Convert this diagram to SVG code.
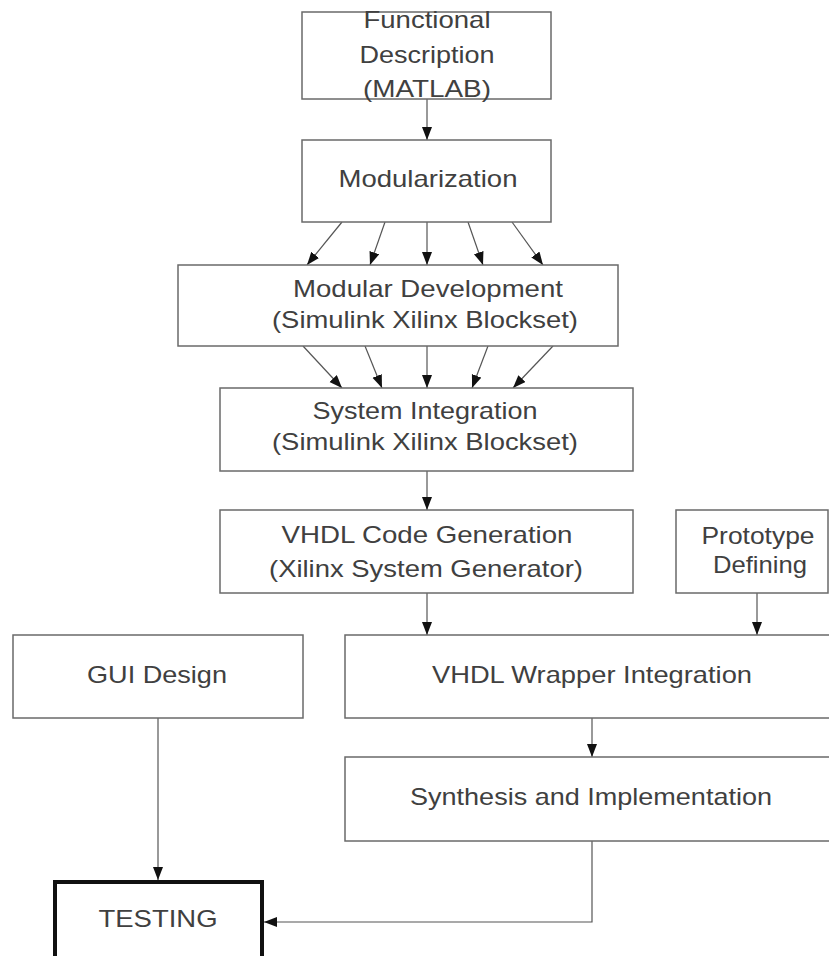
<svg xmlns="http://www.w3.org/2000/svg" width="829" height="956" viewBox="0 0 829 956">
<style>
.box{fill:#fff;stroke:#6a6a6a;stroke-width:1.5}
.bold{fill:#fff;stroke:#111;stroke-width:4}
.t{font-family:"Liberation Sans",Arial,sans-serif;font-size:24px;fill:#404040;text-anchor:middle}
.c{fill:none;stroke:#555;stroke-width:1.2}
</style>
<defs>
<marker id="ah" markerUnits="userSpaceOnUse" markerWidth="14" markerHeight="11" refX="13" refY="5" orient="auto">
<path d="M0,0 L13,5 L0,10 z" fill="#111"/>
</marker>
</defs>
<rect width="829" height="956" fill="#fff"/>
<g id="connectors">
<path class="c" d="M427,99 L427,140" marker-end="url(#ah)"/>
<path class="c" d="M342,222 L307,265" marker-end="url(#ah)"/>
<path class="c" d="M385,222 L370,265" marker-end="url(#ah)"/>
<path class="c" d="M427,222 L427,265" marker-end="url(#ah)"/>
<path class="c" d="M468,222 L483,265" marker-end="url(#ah)"/>
<path class="c" d="M512,222 L543,265" marker-end="url(#ah)"/>
<path class="c" d="M303,346 L342,388" marker-end="url(#ah)"/>
<path class="c" d="M365,346 L382,388" marker-end="url(#ah)"/>
<path class="c" d="M427,346 L427,388" marker-end="url(#ah)"/>
<path class="c" d="M488,346 L472,388" marker-end="url(#ah)"/>
<path class="c" d="M553,346 L513,388" marker-end="url(#ah)"/>
<path class="c" d="M427,471 L427,510" marker-end="url(#ah)"/>
<path class="c" d="M427,593 L427,635" marker-end="url(#ah)"/>
<path class="c" d="M757,593 L757,635" marker-end="url(#ah)"/>
<path class="c" d="M592,718 L592,757" marker-end="url(#ah)"/>
<path class="c" d="M158,718 L158,880" marker-end="url(#ah)"/>
<path class="c" d="M592,841 L592,922 L264,922" marker-end="url(#ah)"/>
</g>
<g id="functional">
<rect class="box" x="302" y="12" width="249" height="87"/>
<text class="t" x="427" y="28" textLength="127" lengthAdjust="spacingAndGlyphs">Functional</text>
<text class="t" x="427" y="63" textLength="135" lengthAdjust="spacingAndGlyphs">Description</text>
<text class="t" x="427" y="97" textLength="128" lengthAdjust="spacingAndGlyphs">(MATLAB)</text>
</g>
<g id="modularization">
<rect class="box" x="302" y="140" width="249" height="82"/>
<text class="t" x="428" y="187" textLength="179" lengthAdjust="spacingAndGlyphs">Modularization</text>
</g>
<g id="modular-development">
<rect class="box" x="178" y="265" width="440" height="81"/>
<text class="t" x="428" y="297" textLength="270" lengthAdjust="spacingAndGlyphs">Modular Development</text>
<text class="t" x="425" y="328" textLength="306" lengthAdjust="spacingAndGlyphs">(Simulink Xilinx Blockset)</text>
</g>
<g id="system-integration">
<rect class="box" x="220" y="388" width="413" height="83"/>
<text class="t" x="425" y="419" textLength="225" lengthAdjust="spacingAndGlyphs">System Integration</text>
<text class="t" x="425" y="450" textLength="306" lengthAdjust="spacingAndGlyphs">(Simulink Xilinx Blockset)</text>
</g>
<g id="vhdl-code-generation">
<rect class="box" x="220" y="510" width="413" height="83"/>
<text class="t" x="427" y="543" textLength="291" lengthAdjust="spacingAndGlyphs">VHDL Code Generation</text>
<text class="t" x="426" y="577" textLength="314" lengthAdjust="spacingAndGlyphs">(Xilinx System Generator)</text>
</g>
<g id="prototype-defining">
<rect class="box" x="676" y="510" width="152" height="83"/>
<text class="t" x="758" y="544" textLength="113" lengthAdjust="spacingAndGlyphs">Prototype</text>
<text class="t" x="760" y="573" textLength="94" lengthAdjust="spacingAndGlyphs">Defining</text>
</g>
<g id="gui-design">
<rect class="box" x="13" y="635" width="290" height="83"/>
<text class="t" x="157" y="683" textLength="140" lengthAdjust="spacingAndGlyphs">GUI Design</text>
</g>
<g id="vhdl-wrapper-integration">
<rect class="box" x="345" y="635" width="490" height="83"/>
<text class="t" x="592" y="683" textLength="320" lengthAdjust="spacingAndGlyphs">VHDL Wrapper Integration</text>
</g>
<g id="synthesis-implementation">
<rect class="box" x="345" y="757" width="490" height="84"/>
<text class="t" x="591" y="805" textLength="362" lengthAdjust="spacingAndGlyphs">Synthesis and Implementation</text>
</g>
<g id="testing">
<rect class="bold" x="55" y="882" width="207" height="90"/>
<text class="t" x="158" y="927" textLength="119" lengthAdjust="spacingAndGlyphs">TESTING</text>
</g>
</svg>
